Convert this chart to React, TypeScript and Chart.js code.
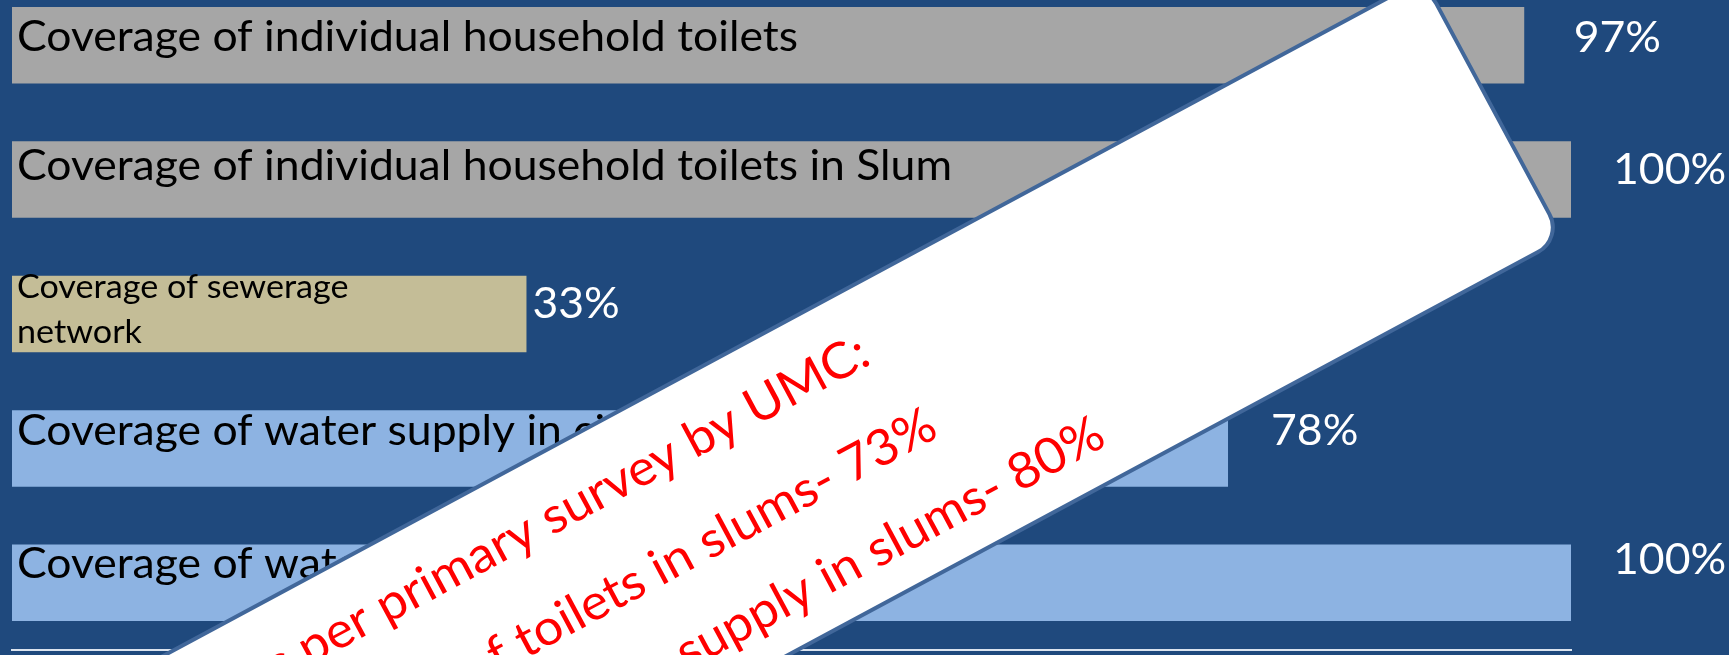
import React, { useEffect, useRef } from "react";
import { Chart, registerables } from "chart.js";

Chart.register(...registerables);

// ---------- data ----------
const categories: (string | string[])[] = [
  "Coverage of individual household toilets",
  "Coverage of individual household toilets in Slum",
  ["Coverage of sewerage", "network"],
  "Coverage of water supply in city",
  "Coverage of water supply in Slum",
];
const coverageValues = [97, 100, 33, 78, 100];
const valueSuffix = "%";
const calloutLines = [
  "As per primary survey by UMC:",
  "Coverage of toilets in slums- 73%",
  "Coverage of water supply in slums- 80%",
];

// ---------- styles ----------
const barColors = ["#A6A6A6", "#A6A6A6", "#C4BD97", "#8DB3E2", "#8DB3E2"];
const BG = "#1F497D";
const FONT = "Lato, 'Open Sans', sans-serif";
const W = 1729;
const H = 655;
const SHIFT = 22; // canvas is taller and shifted up so the first slot starts above the page
const REF_WIDTH = 781; // rendered width of first label in reference (used to fit font width)

const labelStyle = [
  { size: 43, baseline: 44.5, lineGap: 0 },
  { size: 43, baseline: 38.5, lineGap: 0 },
  { size: 33, baseline: 22, lineGap: 45 },
  { size: 43, baseline: 35, lineGap: 0 },
  { size: 43, baseline: 33, lineGap: 0 },
];
const valueStyle = [
  { gap: 49.5, baseline: 45.4 },
  { gap: 42, baseline: 42.3 },
  { gap: 6, baseline: 42.3 },
  { gap: 43, baseline: 35 },
  { gap: 42, baseline: 29 },
];
const callout = {
  angle: (28.25 * Math.PI) / 180,
  left: -420,
  right: 1263.5,
  top: 655,
  bottom: 950,
  radius: 28,
  border: "#41679A",
  textSize: 50,
  lineEnds: [597, 622, 766],
  lineBaselines: [733, 829, 916],
};

function fitScale(ctx: CanvasRenderingContext2D) {
  ctx.save();
  ctx.font = `43px ${FONT}`;
  const w = ctx.measureText(String(categories[0])).width;
  ctx.restore();
  return w > 0 ? REF_WIDTH / w : 1;
}

function drawScaled(
  ctx: CanvasRenderingContext2D,
  text: string,
  x: number,
  y: number,
  k: number
) {
  ctx.save();
  ctx.translate(x, y);
  ctx.scale(k, 1);
  ctx.fillText(text, 0, 0);
  ctx.restore();
}

const labelsPlugin = {
  id: "barLabels",
  afterDatasetsDraw(chart: any) {
    const ctx: CanvasRenderingContext2D = chart.ctx;
    const k = fitScale(ctx);
    const meta = chart.getDatasetMeta(0);
    ctx.save();
    ctx.textBaseline = "alphabetic";
    ctx.textAlign = "left";
    meta.data.forEach((bar: any, i: number) => {
      const p = bar.getProps(["x", "y", "base", "height"], true);
      const top = p.y - p.height / 2;
      const ls = labelStyle[i];
      const lab = categories[i];
      const lines = Array.isArray(lab) ? lab : [lab];
      ctx.fillStyle = "#000000";
      ctx.font = `${ls.size}px ${FONT}`;
      lines.forEach((line, j) => {
        drawScaled(ctx, line, p.base + 5, top + ls.baseline + j * ls.lineGap, k);
      });
      const vs = valueStyle[i];
      ctx.fillStyle = "#FFFFFF";
      ctx.font = `43px ${FONT}`;
      drawScaled(ctx, `${coverageValues[i]}${valueSuffix}`, p.x + vs.gap, top + vs.baseline, k);
    });
    ctx.restore();
  },
  afterDraw(chart: any) {
    const ctx: CanvasRenderingContext2D = chart.ctx;
    const k = fitScale(ctx);
    const c = callout;
    ctx.save();
    ctx.translate(0, SHIFT);
    ctx.rotate(-c.angle);
    ctx.beginPath();
    (ctx as any).roundRect(c.left, c.top, c.right - c.left, c.bottom - c.top, c.radius);
    ctx.fillStyle = "#FFFFFF";
    ctx.fill();
    ctx.lineWidth = 4;
    ctx.strokeStyle = c.border;
    ctx.stroke();
    ctx.fillStyle = "#FF0000";
    ctx.font = `${c.textSize}px ${FONT}`;
    ctx.textAlign = "right";
    ctx.textBaseline = "alphabetic";
    calloutLines.forEach((line, i) => {
      drawScaled(ctx, line, c.lineEnds[i], c.lineBaselines[i], k);
    });
    ctx.restore();
  },
};

export default function App() {
  const ref = useRef<HTMLCanvasElement | null>(null);
  useEffect(() => {
    document.body.style.margin = "0";
    const canvas = ref.current;
    if (!canvas) return;
    const chart = new Chart(canvas, {
      type: "bar",
      data: {
        labels: categories as any,
        datasets: [
          {
            data: coverageValues,
            backgroundColor: barColors,
            borderWidth: 0,
            categoryPercentage: 1,
            barPercentage: 0.569,
          },
        ],
      },
      options: {
        indexAxis: "y",
        animation: false,
        responsive: false,
        devicePixelRatio: 1,
        layout: { padding: { left: 12, right: 158, top: 0, bottom: 5 } },
        plugins: {
          legend: { display: false },
          tooltip: { enabled: false },
        },
        scales: {
          y: { display: false },
          x: {
            min: 0,
            max: 100,
            display: true,
            ticks: { display: false },
            grid: { display: false, drawTicks: false },
            border: { display: true, color: "#DCE4EF", width: 2 },
          },
        },
      },
      plugins: [labelsPlugin],
    });
    return () => chart.destroy();
  }, []);
  return (
    <div
      style={{
        position: "relative",
        width: W,
        height: H,
        overflow: "hidden",
        background: BG,
      }}
    >
      <canvas
        ref={ref}
        width={W}
        height={H + SHIFT}
        style={{ position: "absolute", left: 0, top: -SHIFT, width: W, height: H + SHIFT }}
      />
    </div>
  );
}
